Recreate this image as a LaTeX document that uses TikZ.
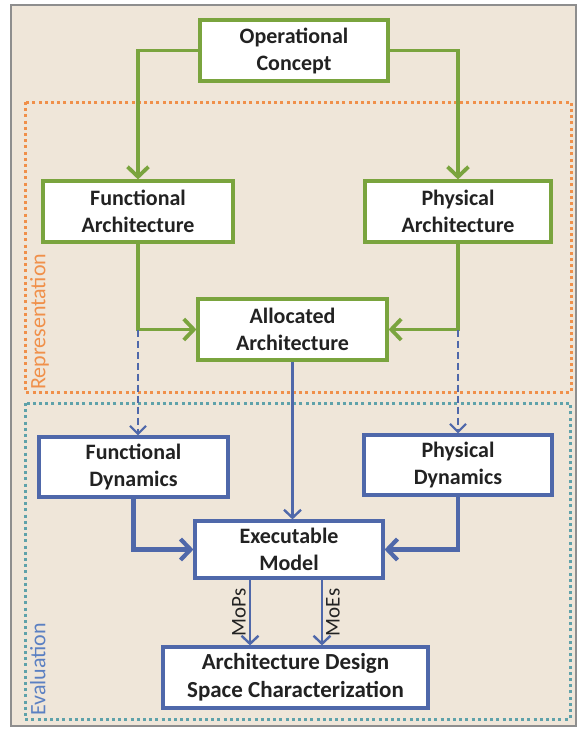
\documentclass[tikz,border=0pt]{standalone}
\usepackage{fontspec}
\setmainfont{Carlito}
\usetikzlibrary{arrows.meta}
\definecolor{bgbeige}{HTML}{EFE6D9}
\definecolor{framegray}{HTML}{8E8E8E}
\definecolor{archgreen}{HTML}{7AA43E}
\definecolor{dynblue}{HTML}{4F68AA}
\definecolor{reporange}{HTML}{F0904A}
\definecolor{evalteal}{HTML}{5FA2AA}
\definecolor{evalblue}{HTML}{5B80C2}
\definecolor{textgray}{HTML}{222222}
\tikzset{
  box/.style={draw,fill=white,line width=3.2pt,minimum height=61pt,inner sep=0pt,
    align=center,text=textgray,font=\bfseries\fontsize{22}{27}\selectfont},
  greenbox/.style={box,draw=archgreen},
  bluebox/.style={box,draw=dynblue},
  greenlink/.style={draw=archgreen,line width=3.8pt,-{Straight Barb[length=10pt,width=21pt]}},
  dashlink/.style={draw=dynblue,line width=2.2pt,dash pattern=on 7pt off 4pt,
    -{Straight Barb[length=8pt,width=16pt]}},
  bluelink/.style={draw=dynblue,line width=2.4pt,-{Straight Barb[length=8pt,width=17pt]}},
  thicklink/.style={draw=dynblue,line width=4.2pt,-{Straight Barb[length=10pt,width=21pt]}},
  region/.style={line width=3pt,dash pattern=on 3pt off 3.2pt},
  regionlabel/.style={rotate=90,anchor=north west,inner sep=0pt,font=\fontsize{22}{24}\selectfont},
  measure/.style={midway,rotate=90,inner sep=3pt,text=textgray,font=\fontsize{21}{24}\selectfont}
}
\begin{document}
\begin{tikzpicture}[x=1pt,y=-1pt]
  \useasboundingbox (0,0) rectangle (581,729);
  % Background and regions
  \draw[framegray,line width=1.8pt,fill=bgbeige] (11,5) rectangle (576,726);
  \draw[region,reporange] (25,102) rectangle (571,392);
  \draw[region,evalteal] (25,403) rectangle (570,719);
  \node[regionlabel,text=reporange] (rep) at (30,390) {Representation};
  \node[regionlabel,text=evalblue] (eval) at (30,716) {Evaluation};
  % Boxes
  \node[greenbox,minimum width=188pt] (op) at (294,50.5) {Operational\\Concept};
  \node[greenbox,minimum width=190pt] (fa) at (138,211.5) {Functional\\Architecture};
  \node[greenbox,minimum width=186pt] (pa) at (458,211.5) {Physical\\Architecture};
  \node[greenbox,minimum width=189pt] (al) at (292.5,329.5) {Allocated\\Architecture};
  \node[bluebox,minimum width=189pt,minimum height=60pt] (fd) at (133.5,467) {Functional\\Dynamics};
  \node[bluebox,minimum width=188pt,minimum height=60pt] (pd) at (458,465) {Physical\\Dynamics};
  \node[bluebox,minimum width=188pt,minimum height=57pt] (ex) at (289,549.5) {Executable\\Model};
  \node[bluebox,minimum width=265pt,font=\bfseries\fontsize{23}{28}\selectfont] (ad) at (295.5,677.5)
    {Architecture Design\\Space Characterization};
  % Representation links
  \draw[greenlink] (op.west) -| (fa.north);
  \draw[greenlink] (op.east) -| (pa.north);
  \draw[greenlink] (fa.south) |- (al.west);
  \draw[greenlink] (pa.south) |- (al.east);
  % Evaluation links
  \draw[dashlink] (fa.south |- al.west) -- (fa.south |- fd.north);
  \draw[dashlink] (pa.south |- al.east) -- (pa.south |- pd.north);
  \draw[bluelink] (al.south) -- (al.south |- ex.north);
  \draw[thicklink] (fd.south) |- (ex.west);
  \draw[thicklink] (pd.south) |- (ex.east);
  \draw[bluelink] ([xshift=-39pt]ex.south) -- ([xshift=-39pt]ex.south |- ad.north)
    node[measure,above] {MoPs};
  \draw[bluelink] ([xshift=33pt]ex.south) -- ([xshift=33pt]ex.south |- ad.north)
    node[measure,below] {MoEs};
\end{tikzpicture}
\end{document}
